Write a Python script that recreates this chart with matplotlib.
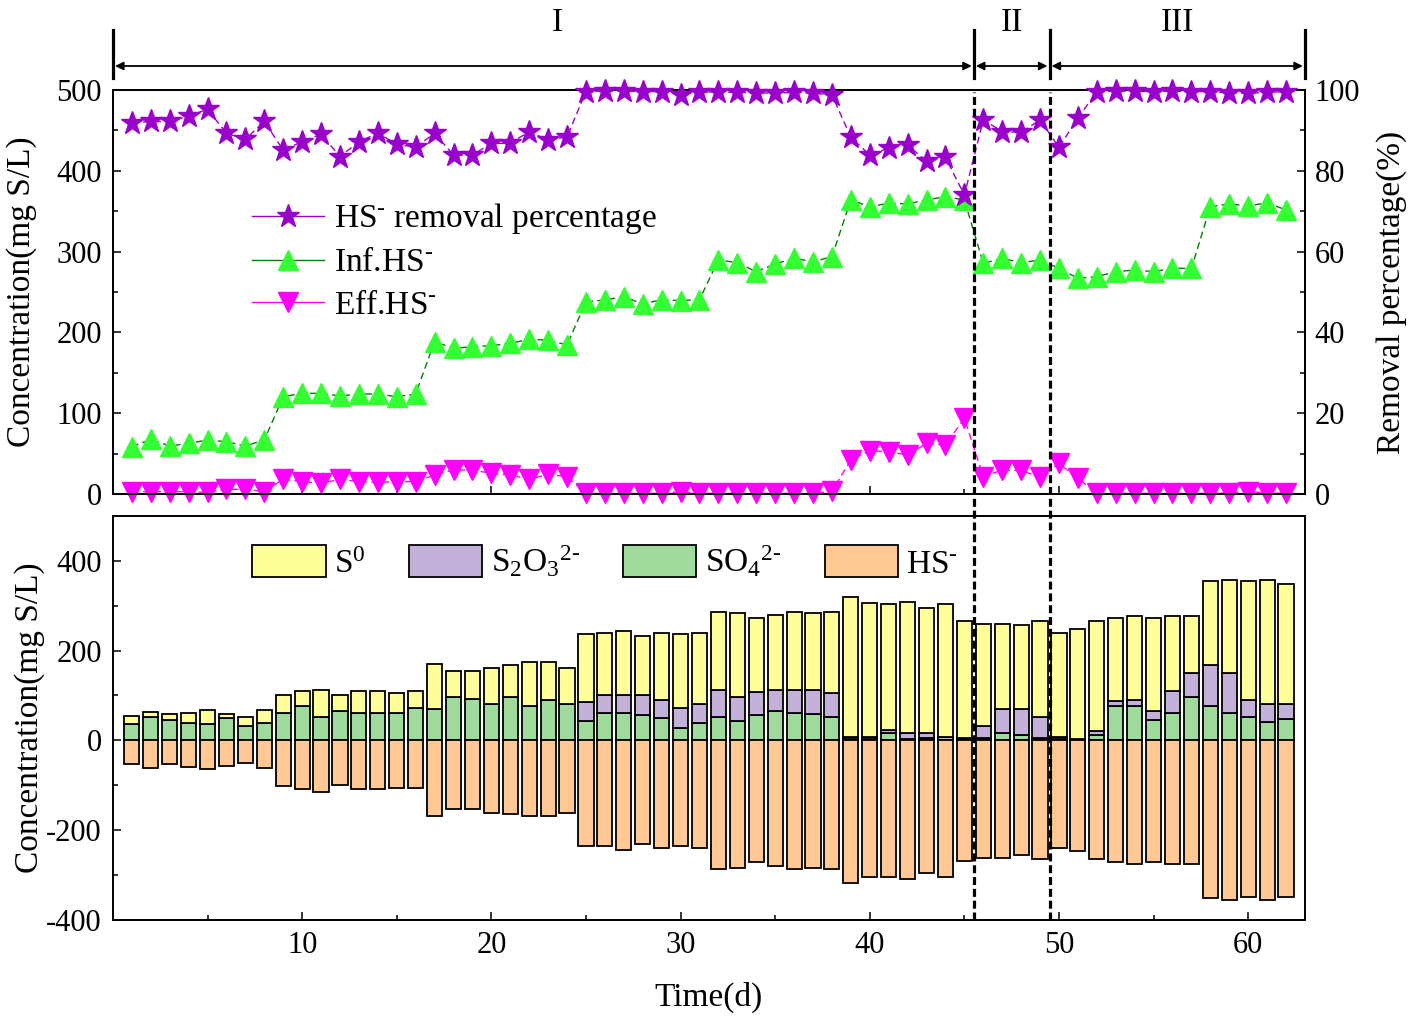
import numpy as np
import matplotlib
matplotlib.use('Agg')
import matplotlib.pyplot as plt
import matplotlib.transforms as mtransforms
from matplotlib.lines import Line2D
from matplotlib.patches import Patch
from matplotlib.ticker import MultipleLocator

plt.rcParams['font.family'] = ['Liberation Serif', 'DejaVu Serif']
plt.rcParams['mathtext.fontset'] = 'custom'
plt.rcParams['mathtext.rm'] = 'Liberation Serif'
plt.rcParams['mathtext.it'] = 'Liberation Serif:italic'
plt.rcParams['mathtext.bf'] = 'Liberation Serif:bold'
plt.rcParams['axes.unicode_minus'] = False

########## data
days = np.arange(1, 63)

# HS- removal percentage (%)
removal = [91.8, 92.2, 92.2, 93.6, 95.2, 89.3, 87.8, 92.2, 85.1, 87.2,
           89.1, 83.5, 87.2, 89.3, 86.6, 85.8, 89.3, 83.9, 83.9, 86.8,
           86.8, 89.7, 87.6, 88.4, 99.6, 99.8, 99.7, 99.6, 99.6, 98.8,
           99.5, 99.5, 99.4, 99.3, 99.2, 99.4, 99.2, 98.8, 88.3, 83.9,
           85.6, 86.4, 82.3, 83.3, 74.0, 92.6, 89.7, 89.5, 92.6, 85.8,
           93.0, 99.6, 99.7, 99.7, 99.6, 99.7, 99.6, 99.6, 99.3, 99.2,
           99.4, 99.6]

# influent / effluent HS- (mg S/L)
inf_hs = [58.6, 67.6, 59.4, 62.7, 66.8, 64.7, 59.4, 66.8, 120.4, 124.6,
          124.6, 121.3, 123.8, 123.8, 120.4, 123.8, 188.5, 180.3, 182.3, 183.5,
          186.5, 191.4, 190.6, 184.4, 238.0, 240.1, 244.2, 235.1, 240.5, 239.3,
          240.5, 289.6, 286.3, 275.2, 284.7, 291.7, 287.5, 293.7, 363.9, 355.6,
          359.8, 359.0, 363.9, 368.0, 363.9, 285.5, 291.7, 286.3, 289.6, 279.3,
          266.9, 269.0, 275.2, 277.2, 275.2, 279.3, 279.3, 355.6, 359.0, 356.4,
          360.5, 351.5]
eff_hs = [2.9, 2.9, 2.9, 2.9, 2.0, 5.8, 5.8, 2.9, 18.2, 15.3,
          13.2, 18.2, 15.3, 14.4, 15.3, 15.3, 23.5, 29.7, 29.7, 25.6,
          23.5, 18.2, 24.4, 21.5, 0.8, 0.8, 0.8, 0.8, 0.8, 2.9,
          0.8, 0.8, 0.8, 0.8, 0.8, 0.8, 0.8, 3.7, 42.0, 53.6,
          52.4, 48.3, 62.7, 60.6, 93.6, 21.5, 29.7, 29.2, 20.9, 37.9,
          19.4, 0.8, 0.8, 0.8, 0.8, 0.8, 0.8, 0.8, 1.5, 3.0,
          1.5, 0.8]

# sulfur species in the bottom panel (mg S/L)
so4 = [36, 52, 45, 39, 36, 49, 32, 39, 60, 76,
       53, 65, 60, 60, 60, 73, 71, 97, 93, 81,
       96, 76, 89, 80, 43, 60, 60, 56, 49, 28,
       39, 52, 44, 56, 65, 60, 59, 52, 2, 4,
       16, 4, 6, 1, 3, 6, 16, 11, 6, 4,
       2, 12, 76, 76, 45, 60, 96, 76, 60, 52,
       41, 48]
s2o3 = [0, 0, 0, 0, 0, 0, 0, 0, 0, 0,
        0, 0, 0, 0, 0, 0, 0, 0, 0, 0,
        0, 0, 0, 0, 42, 42, 42, 46, 41, 45,
        41, 60, 53, 51, 48, 53, 54, 54, 5, 3,
        8, 13, 11, 6, 2, 26, 55, 58, 47, 3,
        2, 9, 11, 13, 20, 50, 54, 91, 90, 37,
        40, 33]
s0 = [18, 11, 13, 22, 31, 9, 21, 28, 42, 34,
      60, 36, 50, 50, 46, 37, 99, 57, 61, 80,
      71, 98, 85, 81, 151, 137, 141, 130, 149, 163,
      159, 175, 187, 166, 167, 174, 171, 181, 312, 300,
      280, 291, 279, 297, 262, 228, 189, 187, 214, 232,
      244, 246, 186, 187, 208, 166, 126, 187, 208, 265,
      277, 268]
hs = [-53, -61, -53, -60, -64, -57, -51, -61, -101, -109,
      -115, -100, -109, -109, -105, -105, -168, -153, -153, -162,
      -164, -168, -168, -162, -235, -236, -244, -231, -239, -235,
      -239, -287, -284, -270, -279, -287, -284, -287, -318, -305,
      -305, -309, -296, -305, -268, -261, -261, -256, -264, -240,
      -246, -264, -272, -276, -270, -276, -276, -352, -355, -349,
      -355, -349]

stage_edges = [0, 45.5, 49.5, 63]
stage_names = ['I', 'II', 'III']
stage_label_x = [23.5, 47.5, 56.25]

########## figure
fig = plt.figure(figsize=(14.26, 10.19), dpi=100)
ax1 = fig.add_axes([0.0792, 0.5152, 0.8359, 0.3965])
ax3 = fig.add_axes([0.0792, 0.0972, 0.8359, 0.3965], sharex=ax1)
ax2 = ax1.twinx()

c_star = '#9900CC'
c_inf = '#33FF33'
c_inf_line = '#008000'
c_eff = '#FF00FF'

ax1.plot(days, inf_hs, color=c_inf_line, lw=1, ls=(0, (5, 3)), marker='^', ms=14,
         mfc=c_inf, mec=c_inf, clip_on=False, zorder=3)
ax1.plot(days, eff_hs, color=c_eff, lw=1, ls=(0, (5, 3)), marker='v', ms=14,
         mfc=c_eff, mec=c_eff, clip_on=False, zorder=3)
ax2.plot(days, removal, color=c_star, lw=1, ls=(0, (5, 3)), marker='*', ms=17,
         mfc=c_star, mec=c_star, clip_on=False, zorder=3)

ax1.set_xlim(0, 63)
ax1.set_ylim(0, 500)
ax2.set_ylim(0, 100)
ax1.yaxis.set_major_locator(MultipleLocator(100))
ax1.yaxis.set_minor_locator(MultipleLocator(50))
ax2.yaxis.set_major_locator(MultipleLocator(20))
ax2.yaxis.set_minor_locator(MultipleLocator(10))
ax1.set_xticks([10, 20, 30, 40, 50, 60])
ax1.xaxis.set_minor_locator(MultipleLocator(5))

# stacked bars
w = 0.8
so4_a = np.array(so4)
s2o3_a = np.array(s2o3)
bar_kw = dict(width=w, edgecolor='black', linewidth=1.3, zorder=2)
ax3.bar(days, so4, color='#A1DA9D', **bar_kw)
ax3.bar(days, s2o3, bottom=so4_a, color='#C3B1D9', **bar_kw)
ax3.bar(days, s0, bottom=so4_a + s2o3_a, color='#FFFF99', **bar_kw)
ax3.bar(days, hs, color='#FFC894', **bar_kw)
ax3.set_ylim(-400, 500)
ax3.set_yticks([-400, -200, 0, 200, 400])
ax3.yaxis.set_minor_locator(MultipleLocator(100))
ax3.set_xlim(0, 63)

# ticks and spines
for ax in (ax1, ax2, ax3):
    for s in ax.spines.values():
        s.set_linewidth(1.4)
ax1.tick_params(axis='both', which='both', direction='in', width=1.1,
                labelsize=22, pad=8, top=False, right=False, labelbottom=False)
ax1.tick_params(which='major', length=5.5)
ax1.tick_params(which='minor', length=3.5)
ax2.tick_params(axis='y', which='both', direction='in', width=1.1, labelsize=22, pad=7)
ax2.tick_params(which='major', length=5.5)
ax2.tick_params(which='minor', length=3.5)
ax3.tick_params(axis='both', which='both', direction='in', width=1.1,
                labelsize=22, pad=8, top=False, right=False)
ax3.tick_params(which='major', length=5.5)
ax3.tick_params(which='minor', length=3.5)

# labels
ax1.set_ylabel('Concentration(mg S/L)', fontsize=24)
ax1.yaxis.set_label_coords(-0.064, 0.5)
ax3.set_ylabel('Concentration(mg S/L)', fontsize=24)
ax3.yaxis.set_label_coords(-0.057, 0.5)
ax2.set_ylabel('Removal percentage(%)', fontsize=24)
ax2.yaxis.set_label_coords(1.06, 0.5)
ax3.set_xlabel('Time(d)', fontsize=24)
ax3.xaxis.set_label_coords(0.5, -0.152)

# legends
handles = [
    Line2D([], [], color=c_star, lw=1, marker='*', ms=17, mfc=c_star, mec=c_star),
    Line2D([], [], color=c_inf_line, lw=1, marker='^', ms=14, mfc=c_inf, mec=c_inf),
    Line2D([], [], color=c_eff, lw=1, marker='v', ms=14, mfc=c_eff, mec=c_eff),
]
labels = [r'HS$^{\text{-}}$ removal percentage', r'Inf.HS$^{\text{-}}$', r'Eff.HS$^{\text{-}}$']
ax2.legend(handles, labels, loc='center left', bbox_to_anchor=(0.117, 0.577),
           frameon=False, fontsize=24, handlelength=2.15, handletextpad=0.3,
           labelspacing=0.35, borderpad=0, borderaxespad=0)

patches = [Patch(facecolor=c, edgecolor='black', linewidth=1.3)
           for c in ('#FFFF99', '#C3B1D9', '#A1DA9D', '#FFC894')]
plabels = [r'S$^{0}$', r'S$_{2}$O$_{3}$$^{\text{2-}}$', r'SO$_{4}$$^{\text{2-}}$', r'HS$^{\text{-}}$']
ax3.legend(patches, plabels, ncol=4, loc='center left', bbox_to_anchor=(0.117, 0.886),
           frameon=False, fontsize=24, handlelength=2.2, handleheight=1.1,
           handletextpad=0.25, columnspacing=1.3, borderpad=0, borderaxespad=0)

# stage dividers and labels
trans = mtransforms.blended_transform_factory(ax1.transData, fig.transFigure)
for xv in stage_edges[1:3]:
    fig.add_artist(Line2D([xv, xv], [1 - 920 / 1019, 1 - 92 / 1019], transform=trans,
                          color='black', lw=2.3, ls=(0, (2.5, 1.2)), zorder=10))
y_bar0, y_bar1 = 1 - 78 / 1019, 1 - 30 / 1019
y_arrow = 1 - 66 / 1019
for xe in stage_edges:
    fig.add_artist(Line2D([xe, xe], [y_bar0, y_bar1], transform=trans,
                          color='black', lw=2.3))
for i in range(3):
    ax1.annotate('', xy=(stage_edges[i + 1], y_arrow), xytext=(stage_edges[i], y_arrow),
                 xycoords=trans, textcoords=trans, annotation_clip=False,
                 arrowprops=dict(arrowstyle='<|-|>', color='black', lw=1.3,
                                 mutation_scale=12, shrinkA=1.5, shrinkB=1.5))
    fig.text(stage_label_x[i], 1 - 23 / 1019, stage_names[i], transform=trans,
             ha='center', va='center', fontsize=24)

fig.savefig('out.png', dpi=100)
